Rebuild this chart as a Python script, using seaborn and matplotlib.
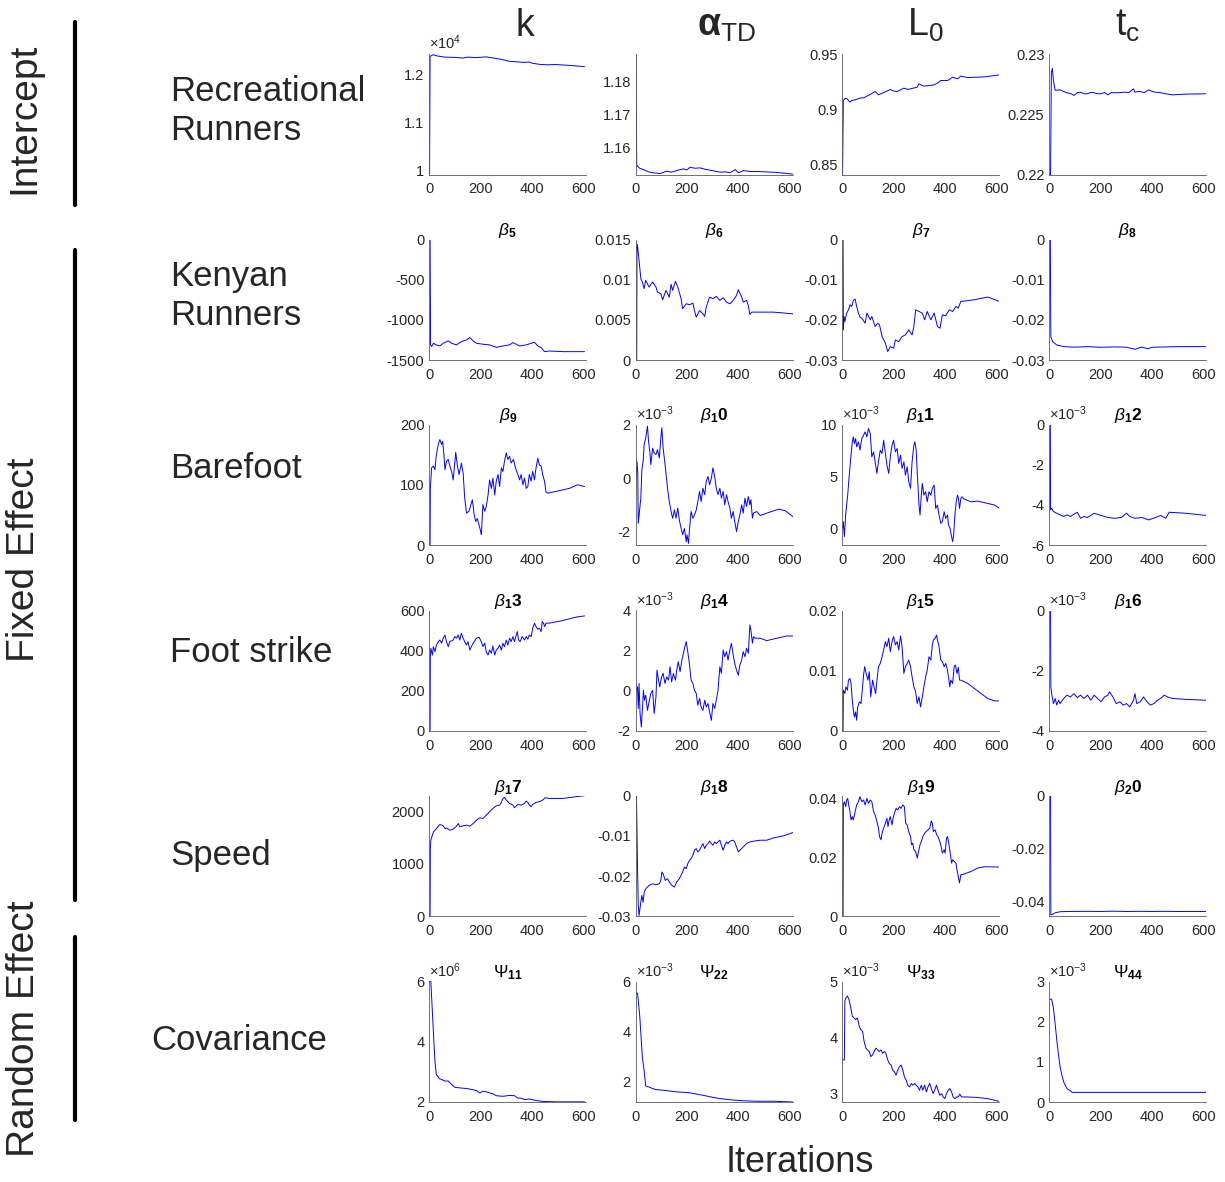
import matplotlib
matplotlib.use("Agg")
import matplotlib.pyplot as plt
import seaborn as sns
from matplotlib.lines import Line2D

# ---------------- data (iteration, value) ----------------
# Row 1: intercepts
it_k = [1, 3, 15, 30, 60, 100, 130, 150, 180, 200, 222, 250, 280, 313, 340, 365, 390, 400, 430, 460, 494, 540, 580, 605]
v_k = [0.993, 1.238, 1.2414, 1.239, 1.2365, 1.236, 1.2345, 1.2365, 1.2355, 1.2362, 1.2370, 1.2345, 1.232, 1.2276,
       1.2268, 1.2255, 1.2262, 1.224, 1.2214, 1.2205, 1.221, 1.2195, 1.2178, 1.2165]

it_atd = [1, 4, 7, 15, 30, 50, 69, 95, 121, 140, 160, 186, 200, 212, 230, 251, 270, 290, 310, 329, 350, 368, 388,
          401, 420, 446, 472, 537, 580, 612]
v_atd = [1.1884, 1.1544, 1.1545, 1.1538, 1.1534, 1.1527, 1.1524, 1.1522, 1.1529, 1.1526, 1.1531, 1.1536, 1.1533,
         1.1541, 1.1538, 1.1539, 1.1535, 1.1532, 1.1529, 1.1526, 1.1527, 1.1524, 1.1534, 1.1524, 1.1531, 1.1528,
         1.1528, 1.1526, 1.1523, 1.1520]

it_l0 = [1, 4, 10, 17, 30, 37, 50, 69, 85, 96, 110, 128, 141, 160, 187, 200, 214, 240, 255, 266, 292, 299, 318,
         340, 358, 370, 384, 410, 430, 449, 462, 489, 554, 612]
v_l0 = [0.842, 0.9080, 0.9095, 0.9098, 0.9065, 0.9080, 0.9085, 0.9101, 0.9105, 0.9119, 0.9135, 0.9161, 0.9131,
        0.915, 0.9179, 0.9165, 0.9161, 0.9191, 0.9180, 0.9185, 0.9200, 0.9230, 0.9209, 0.9215, 0.9221, 0.9235,
        0.9260, 0.9260, 0.9290, 0.9275, 0.9299, 0.9287, 0.9293, 0.9311]

it_tc = [1, 5, 8, 12, 16, 23, 42, 55, 69, 85, 96, 110, 122, 135, 149, 160, 175, 190, 202, 215, 228, 242, 255, 275,
         295, 310, 328, 334, 350, 370, 387, 400, 414, 430, 454, 480, 533, 612]
v_tc = [0.2200, 0.2200, 0.2285, 0.2288, 0.2278, 0.2270, 0.22702, 0.2269, 0.22678, 0.2267, 0.22656, 0.2268,
        0.22683, 0.2267, 0.2267, 0.2268, 0.22678, 0.2267, 0.2267, 0.2268, 0.22661, 0.2268, 0.22678, 0.2268,
        0.22683, 0.2268, 0.22711, 0.22683, 0.2269, 0.2268, 0.22702, 0.2269, 0.22683, 0.2268, 0.2267, 0.22661,
        0.22667, 0.2267]

# Row 2: Kenyan runners
it_b5 = [1, 3, 5, 9, 16, 28, 41, 54, 74, 87, 106, 125, 145, 158, 171, 184, 210, 235, 261, 287, 313, 326, 352, 378,
         397, 410, 423, 436, 449, 468, 520, 605]
v_b5 = [0, 0, -1312, -1333, -1292, -1312, -1325, -1292, -1262, -1292, -1312, -1271, -1250, -1221, -1262, -1292,
        -1304, -1312, -1342, -1325, -1312, -1283, -1325, -1312, -1292, -1279, -1325, -1346, -1396, -1388, -1396, -1396]

it_b6 = [1, 4, 5, 7, 13, 20, 26, 33, 39, 52, 66, 79, 85, 98, 105, 118, 131, 138, 144, 155, 164, 177, 183, 197, 210,
         223, 229, 236, 249, 262, 269, 275, 288, 301, 314, 328, 341, 354, 367, 380, 393, 400, 413, 419, 432, 439,
         445, 452, 472, 537, 613]
v_b6 = [0.0, 0.0, 0.01438, 0.01429, 0.01242, 0.01013, 0.00971, 0.00888, 0.00992, 0.00908, 0.00971, 0.00908,
        0.00846, 0.00825, 0.0075, 0.00867, 0.00783, 0.00942, 0.00867, 0.00979, 0.00908, 0.00763, 0.00638, 0.007,
        0.00688, 0.00708, 0.00617, 0.00533, 0.00617, 0.00575, 0.00542, 0.00658, 0.00783, 0.00763, 0.00792,
        0.00742, 0.00775, 0.00721, 0.007, 0.00742, 0.00804, 0.00875, 0.00783, 0.00721, 0.00742, 0.00679,
        0.00567, 0.00596, 0.00596, 0.00596, 0.00575]

it_b7 = [1, 3, 4, 7, 10, 17, 24, 30, 37, 43, 50, 56, 63, 69, 76, 89, 96, 109, 115, 128, 138, 145, 155, 168, 177,
         187, 200, 207, 220, 233, 246, 259, 272, 279, 286, 299, 312, 321, 331, 345, 358, 371, 381, 390, 403, 417,
         430, 443, 452, 462, 515, 567, 613]
v_b7 = [0, 0, -0.0225, -0.01917, -0.02042, -0.01833, -0.0175, -0.01625, -0.01667, -0.01517, -0.01483, -0.01667,
        -0.01833, -0.01933, -0.01958, -0.02083, -0.01833, -0.02, -0.01917, -0.02167, -0.02083, -0.02125, -0.02417,
        -0.02583, -0.02792, -0.02667, -0.02708, -0.025, -0.02542, -0.02417, -0.02375, -0.0225, -0.02375, -0.02167,
        -0.0175, -0.01792, -0.01833, -0.02, -0.01792, -0.02, -0.01833, -0.02167, -0.02208, -0.01875, -0.019,
        -0.0175, -0.01792, -0.01667, -0.01708, -0.01542, -0.015, -0.01433, -0.01542]

it_b8 = [1, 4, 6, 13, 29, 56, 100, 150, 200, 250, 300, 334, 360, 385, 401, 450, 500, 612]
v_b8 = [0, 0, -0.02417, -0.02542, -0.02625, -0.02667, -0.0268, -0.02667, -0.02683, -0.02675, -0.0268, -0.02733,
        -0.0268, -0.0272, -0.02683, -0.02675, -0.02667, -0.02667]

# Row 3: barefoot
it_b9 = [1, 3, 4, 9, 16, 22, 26, 31, 35, 41, 48, 52, 57, 61, 67, 74, 80, 87, 93, 100, 103, 109, 116, 122, 125, 132,
         138, 145, 155, 162, 168, 175, 181, 187, 197, 203, 209, 216, 222, 229, 235, 242, 248, 255, 261, 268, 274,
         281, 287, 293, 300, 306, 313, 319, 328, 336, 345, 352, 358, 365, 371, 378, 384, 390, 397, 403, 410, 416,
         423, 429, 436, 442, 449, 455, 462, 494, 546, 578, 605]
v_b9 = [0, 0, 94, 128, 131, 125, 144, 158, 167, 175, 167, 172, 150, 125, 139, 142, 131, 122, 108, 139, 154, 133,
        117, 129, 136, 119, 78, 53, 56, 67, 75, 50, 39, 44, 28, 17, 67, 56, 64, 83, 108, 94, 111, 83, 106, 117, 97,
        128, 122, 139, 153, 142, 147, 136, 142, 128, 117, 108, 117, 100, 111, 94, 97, 117, 106, 122, 108, 128, 144,
        133, 131, 117, 106, 88, 86, 89, 94, 100, 97]

it_b10 = [1, 5, 8, 10, 16, 20, 24, 29, 33, 39, 46, 50, 55, 59, 66, 72, 79, 85, 92, 98, 102, 107, 113, 118, 124, 131,
          138, 144, 151, 157, 164, 170, 177, 183, 190, 197, 200, 206, 210, 216, 223, 229, 236, 242, 249, 255, 262,
          269, 275, 282, 288, 295, 301, 308, 314, 321, 328, 334, 341, 347, 354, 360, 367, 373, 380, 386, 393, 400,
          406, 413, 419, 426, 432, 439, 445, 449, 455, 459, 472, 485, 511, 557, 583, 613]
v_b10 = [0.0, 0.62, 0.2, -1.69, -1.12, -0.75, 0.31, 0.62, 1.25, 1.5, 1.94, 1.38, 1.0, 0.5, 1.12, 0.94, 0.88, 1.06,
         0.75, 1.5, 1.88, 1.12, 0.62, 0.19, -0.38, -0.88, -1.25, -1.5, -1.19, -1.5, -1.12, -1.56, -1.88, -2.12,
         -1.88, -2.38, -2.12, -2.44, -1.88, -1.25, -1.5, -1.38, -1.19, -0.88, -0.5, -0.88, -0.38, -0.62, -0.12,
         0.06, -0.25, 0.0, 0.38, 0.06, -0.38, -0.62, -0.38, -0.75, -0.5, -1.0, -0.62, -0.88, -1.12, -1.5, -1.25,
         -1.62, -2.0, -1.62, -1.38, -1.0, -1.31, -0.75, -1.06, -0.69, -1.0, -0.81, -1.5, -1.31, -1.25, -1.4, -1.31,
         -1.16, -1.22, -1.44]

it_b11 = [1, 4, 8, 13, 17, 21, 25, 30, 34, 39, 43, 47, 52, 56, 63, 69, 76, 83, 89, 96, 102, 109, 115, 122, 128, 135,
          141, 148, 155, 161, 168, 174, 181, 187, 194, 200, 207, 214, 220, 227, 233, 240, 246, 253, 259, 266, 272,
          279, 283, 288, 292, 299, 303, 308, 312, 318, 325, 331, 338, 345, 351, 358, 364, 371, 377, 384, 390, 397,
          403, 410, 414, 420, 426, 430, 434, 439, 444, 449, 453, 457, 462, 466, 475, 502, 528, 567, 594, 613]
v_b11 = [0.0, 0.64, -0.8, 1.28, 2.24, 3.2, 4.49, 5.93, 7.05, 8.33, 8.81, 8.17, 8.65, 7.85, 8.33, 7.53, 8.65, 8.97,
         9.29, 8.81, 9.62, 9.13, 6.89, 7.37, 6.41, 5.29, 6.41, 7.53, 7.21, 8.49, 7.21, 6.09, 5.29, 6.89, 8.01, 8.49,
         7.37, 7.69, 6.25, 7.05, 5.77, 6.41, 5.13, 5.93, 4.49, 3.85, 6.41, 8.01, 8.33, 7.53, 5.45, 2.24, 1.28, 3.2,
         4.33, 3.2, 3.53, 2.56, 3.53, 3.2, 3.85, 4.17, 1.92, 2.24, 1.28, 0.48, 0.64, 1.6, 0.96, 1.28, 0.32, 0.0,
         -0.8, -1.28, -0.64, 1.28, 2.56, 3.2, 2.88, 1.92, 2.88, 3.04, 2.82, 2.56, 2.62, 2.4, 2.24, 1.92]

it_b12 = [1, 4, 5, 9, 16, 29, 42, 56, 69, 82, 96, 109, 122, 135, 149, 175, 202, 228, 255, 281, 301, 314, 334, 361,
          387, 414, 434, 454, 467, 533, 612]
v_b12 = [0, 0, -4.25, -4.17, -4.33, -4.42, -4.5, -4.58, -4.5, -4.58, -4.47, -4.37, -4.67, -4.58, -4.63, -4.42,
         -4.53, -4.63, -4.67, -4.63, -4.42, -4.58, -4.67, -4.63, -4.75, -4.63, -4.53, -4.67, -4.37, -4.42, -4.53]

# Row 4: foot strike
it_b13 = [1, 3, 4, 6, 12, 16, 22, 28, 35, 41, 48, 54, 61, 67, 74, 80, 93, 100, 106, 113, 119, 125, 132, 138, 145,
          151, 158, 164, 171, 184, 194, 203, 209, 216, 222, 229, 235, 242, 248, 255, 261, 268, 274, 281, 287, 293,
          300, 306, 313, 319, 326, 332, 339, 343, 348, 354, 362, 371, 378, 384, 390, 397, 403, 410, 416, 423, 429,
          436, 440, 445, 450, 455, 468, 520, 572, 605]
v_b13 = [0, 0, 370, 412, 378, 420, 395, 428, 445, 453, 437, 462, 478, 445, 420, 445, 453, 470, 462, 478, 453, 487,
         462, 445, 428, 445, 403, 420, 437, 462, 467, 445, 420, 437, 395, 378, 403, 387, 423, 378, 403, 412, 428,
         403, 437, 420, 453, 428, 462, 445, 470, 445, 478, 495, 453, 445, 470, 453, 470, 457, 478, 470, 512, 537,
         520, 507, 512, 495, 545, 537, 520, 537, 537, 550, 567, 573]

it_b14 = [1, 7, 10, 13, 17, 22, 26, 30, 34, 39, 46, 52, 59, 66, 72, 79, 83, 89, 94, 101, 107, 114, 121, 128, 134,
          140, 147, 155, 160, 166, 173, 180, 186, 193, 197, 203, 210, 216, 223, 229, 236, 242, 249, 255, 262, 269,
          275, 282, 288, 295, 301, 308, 314, 321, 328, 334, 341, 347, 354, 360, 367, 373, 380, 386, 393, 400, 406,
          413, 419, 426, 432, 439, 445, 449, 455, 459, 465, 485, 511, 550, 589, 613]
v_b14 = [0.03, 0.2, -0.88, 0.37, -1.13, -1.8, -0.97, 0.03, -0.47, -0.22, -0.97, -0.55, -0.13, 0.03, -1.13, -0.3,
         1.03, 0.53, 0.2, 0.7, 0.87, 0.37, 0.7, 0.53, 1.2, 0.45, 0.87, 0.53, 1.03, 1.45, 0.95, 1.53, 1.87, 2.28,
         2.45, 1.95, 1.28, 0.53, 0.37, 0.03, -0.13, -0.72, -0.38, -0.8, -0.97, -0.47, -0.8, -0.63, -1.05, -1.47,
         -0.63, -0.88, -0.47, 0.03, 1.2, 0.87, 2.03, 1.7, 1.95, 1.53, 2.03, 2.37, 1.78, 1.37, 1.03, 0.78, 1.28,
         1.53, 1.95, 1.7, 2.12, 1.87, 3.28, 3.03, 2.37, 2.7, 2.62, 2.62, 2.5, 2.62, 2.73, 2.73]

it_b15 = [1, 3, 4, 10, 14, 20, 24, 30, 34, 39, 43, 47, 52, 56, 60, 67, 73, 79, 83, 87, 93, 100, 105, 111, 118, 124,
          130, 135, 141, 148, 155, 161, 168, 174, 181, 187, 194, 200, 207, 214, 220, 227, 233, 240, 246, 253, 259,
          266, 272, 279, 286, 292, 299, 305, 312, 318, 325, 331, 338, 345, 351, 355, 362, 367, 371, 377, 384, 390,
          397, 403, 410, 414, 419, 423, 430, 436, 441, 447, 452, 457, 462, 489, 515, 541, 567, 594, 613]
v_b15 = [0.0, 0.0, 0.00678, 0.00622, 0.00733, 0.00678, 0.00844, 0.00872, 0.00789, 0.00511, 0.00344, 0.00233,
         0.00317, 0.00178, 0.004, 0.00483, 0.00456, 0.00733, 0.00928, 0.01067, 0.00956, 0.00844, 0.00983, 0.00567,
         0.00844, 0.00733, 0.00622, 0.00844, 0.01067, 0.01122, 0.01233, 0.01344, 0.01483, 0.014, 0.01539, 0.01317,
         0.01483, 0.01567, 0.01428, 0.01483, 0.01344, 0.01578, 0.014, 0.00956, 0.01067, 0.01122, 0.01178, 0.01067,
         0.009, 0.00733, 0.0065, 0.00456, 0.00567, 0.004, 0.00567, 0.00733, 0.009, 0.01011, 0.01233, 0.01178,
         0.01428, 0.01511, 0.01539, 0.01594, 0.01511, 0.014, 0.01178, 0.0115, 0.01067, 0.01122, 0.01011, 0.009,
         0.00733, 0.00844, 0.00789, 0.01067, 0.01094, 0.00956, 0.01056, 0.00844, 0.00844, 0.00789, 0.00706,
         0.00622, 0.00539, 0.005, 0.005]

it_b16 = [1, 5, 6, 9, 16, 23, 29, 36, 42, 56, 69, 82, 96, 109, 122, 135, 149, 162, 175, 188, 202, 215, 228, 235,
          248, 261, 275, 288, 301, 314, 328, 334, 341, 354, 367, 381, 394, 408, 421, 434, 448, 461, 480, 533, 612]
v_b16 = [0, 0, -2.53, -2.76, -3.09, -2.92, -3.14, -2.98, -3.09, -2.92, -2.81, -2.87, -2.76, -2.89, -2.81, -2.92,
         -2.81, -2.98, -2.81, -2.92, -3.03, -2.87, -2.81, -2.7, -2.87, -3.09, -3.03, -3.14, -3.09, -3.2, -2.98,
         -2.76, -3.09, -3.03, -2.87, -3.03, -3.14, -3.09, -2.98, -2.92, -2.81, -2.87, -2.92, -2.95, -2.98]

# Row 5: speed
it_b17 = [1, 3, 4, 6, 12, 16, 22, 28, 35, 41, 48, 54, 61, 67, 80, 93, 106, 113, 119, 132, 145, 158, 171, 184, 197,
          209, 222, 235, 248, 261, 274, 281, 287, 293, 300, 313, 326, 332, 345, 358, 371, 378, 384, 390, 397, 403,
          416, 429, 442, 451, 468, 520, 572, 605]
v_b17 = [0, 0, 1295, 1455, 1551, 1615, 1647, 1679, 1724, 1756, 1744, 1731, 1679, 1692, 1647, 1667, 1724, 1776, 1712,
         1731, 1744, 1724, 1776, 1840, 1885, 1872, 1936, 2000, 2064, 2115, 2128, 2179, 2256, 2276, 2224, 2160, 2128,
         2077, 2141, 2128, 2160, 2205, 2179, 2128, 2096, 2141, 2179, 2192, 2224, 2269, 2256, 2256, 2288, 2308]

it_b18 = [1, 3, 7, 10, 13, 20, 24, 29, 33, 39, 46, 52, 66, 79, 92, 98, 102, 107, 115, 124, 131, 141, 151, 160, 170,
          177, 183, 190, 197, 203, 210, 216, 223, 229, 236, 242, 249, 255, 262, 269, 275, 282, 288, 295, 301, 308,
          314, 321, 328, 334, 341, 347, 354, 360, 367, 380, 386, 393, 400, 406, 413, 419, 426, 432, 445, 459, 485,
          511, 537, 576, 613]
v_b18 = [0, 0, -0.01733, -0.02733, -0.02983, -0.0265, -0.02483, -0.0265, -0.024, -0.02317, -0.02275, -0.02233,
         -0.02192, -0.02217, -0.02192, -0.02108, -0.019, -0.01942, -0.02108, -0.02067, -0.0215, -0.02233, -0.02275,
         -0.0215, -0.02067, -0.01983, -0.019, -0.01775, -0.01817, -0.01692, -0.01608, -0.01567, -0.01483, -0.01358,
         -0.01317, -0.014, -0.01358, -0.01275, -0.01192, -0.01317, -0.01233, -0.01192, -0.01133, -0.01192,
         -0.01233, -0.0115, -0.01192, -0.0115, -0.01108, -0.01233, -0.01358, -0.01233, -0.0115, -0.01192,
         -0.01133, -0.01108, -0.0115, -0.01275, -0.014, -0.01358, -0.01317, -0.01275, -0.01233, -0.01192, -0.0115,
         -0.01133, -0.01108, -0.01108, -0.0105, -0.01, -0.00917]

it_b19 = [1, 3, 4, 8, 13, 17, 21, 25, 30, 34, 39, 43, 50, 56, 63, 69, 76, 83, 89, 96, 102, 109, 115, 122, 128, 135,
          141, 145, 151, 155, 161, 168, 174, 178, 183, 187, 194, 198, 203, 210, 216, 223, 229, 236, 242, 247, 253,
          259, 266, 270, 275, 279, 286, 292, 296, 303, 308, 314, 321, 327, 334, 341, 347, 351, 355, 362, 368, 373,
          380, 384, 390, 397, 401, 406, 410, 415, 420, 426, 430, 436, 443, 447, 452, 457, 462, 475, 502, 528, 554,
          613]
v_b19 = [0, 0, 0.03775, 0.03887, 0.03718, 0.03944, 0.04, 0.03775, 0.03549, 0.03268, 0.0338, 0.03268, 0.03549,
         0.03775, 0.03887, 0.04056, 0.03887, 0.03944, 0.03775, 0.04, 0.03831, 0.03944, 0.03887, 0.03549, 0.03437,
         0.03211, 0.02986, 0.02704, 0.02592, 0.02817, 0.02986, 0.03155, 0.03324, 0.03042, 0.03268, 0.0338,
         0.03099, 0.03324, 0.03493, 0.03662, 0.03606, 0.03718, 0.03662, 0.03775, 0.03718, 0.03155, 0.03099,
         0.02873, 0.02704, 0.02423, 0.02479, 0.02254, 0.02197, 0.01972, 0.02141, 0.02423, 0.02535, 0.02704,
         0.02817, 0.02873, 0.0293, 0.02986, 0.03234, 0.03155, 0.02873, 0.0293, 0.02761, 0.02704, 0.02535, 0.02423,
         0.02141, 0.02254, 0.02141, 0.02648, 0.02704, 0.02479, 0.02197, 0.01803, 0.01915, 0.01859, 0.01803,
         0.01577, 0.01352, 0.01127, 0.01408, 0.01431, 0.01521, 0.01634, 0.01679, 0.01668]

it_b20 = [1, 5, 6, 13, 23, 42, 80, 150, 200, 250, 300, 350, 400, 450, 500, 612]
v_b20 = [0, 0, -0.0452, -0.045, -0.0444, -0.0440, -0.0439, -0.04385, -0.0439, -0.0438, -0.0439, -0.04385, -0.0439,
         -0.04385, -0.0439, -0.0439]

# Row 6: covariance
it_p11 = [1, 6, 9, 13, 17, 22, 27, 32, 39, 48, 61, 74, 87, 100, 119, 145, 171, 184, 197, 209, 222, 248, 261, 287,
          313, 332, 345, 358, 371, 390, 416, 442, 494, 605]
v_p11 = [6.0, 6.0, 5.49, 4.82, 4.14, 3.35, 2.9, 2.85, 2.76, 2.73, 2.68, 2.68, 2.56, 2.47, 2.45, 2.43, 2.39, 2.36,
         2.28, 2.34, 2.32, 2.25, 2.19, 2.17, 2.2, 2.19, 2.11, 2.11, 2.06, 2.08, 2.03, 2.0, 1.985, 1.985]

it_p22 = [1, 7, 10, 16, 21, 26, 33, 39, 52, 66, 79, 118, 157, 210, 262, 314, 367, 419, 472, 537, 613]
v_p22 = [5.53, 5.53, 5.25, 4.58, 3.76, 2.95, 2.41, 1.8, 1.76, 1.7, 1.66, 1.62, 1.57, 1.53, 1.43, 1.32, 1.25, 1.21,
         1.19, 1.19, 1.16]

it_p33 = [1, 8, 10, 14, 20, 26, 33, 39, 46, 52, 59, 66, 72, 79, 85, 92, 98, 105, 111, 118, 124, 131, 138, 144, 151,
          157, 164, 170, 177, 183, 190, 196, 203, 210, 216, 223, 229, 236, 242, 249, 255, 262, 269, 275, 282, 288,
          295, 301, 308, 314, 321, 328, 334, 341, 347, 354, 360, 367, 373, 380, 387, 393, 400, 406, 413, 419, 426,
          432, 439, 445, 452, 458, 465, 489, 528, 567, 613]
v_p33 = [3.6, 3.6, 4.65, 4.71, 4.74, 4.68, 4.53, 4.38, 4.35, 4.32, 4.35, 4.2, 4.14, 4.11, 3.93, 3.81, 3.78, 3.75,
         3.66, 3.69, 3.75, 3.81, 3.78, 3.75, 3.78, 3.72, 3.75, 3.72, 3.6, 3.54, 3.51, 3.42, 3.39, 3.33, 3.42, 3.48,
         3.51, 3.42, 3.3, 3.24, 3.15, 3.12, 3.18, 3.15, 3.18, 3.15, 3.12, 3.06, 3.15, 3.06, 3.15, 3.03, 3.12, 3.18,
         3.09, 3.0, 3.06, 3.15, 3.06, 2.97, 3.0, 2.94, 2.91, 3.0, 3.06, 3.09, 3.03, 2.94, 2.91, 2.94, 2.94, 2.99,
         2.94, 2.94, 2.93, 2.91, 2.86]

it_p44 = [1, 9, 16, 23, 29, 36, 42, 49, 56, 62, 69, 82, 89, 150, 300, 450, 612]
v_p44 = [2.56, 2.56, 2.35, 1.93, 1.55, 1.17, 0.88, 0.67, 0.5, 0.42, 0.33, 0.28, 0.24, 0.24, 0.24, 0.24, 0.24]

col_headers = ["k", r"$\mathbf{\alpha}_{\mathrm{TD}}$", r"L$_{0}$", r"t$_{\mathrm{c}}$"]
row_labels = ["Recreational\nRunners", "Kenyan\nRunners", "Barefoot", "Foot strike", "Speed", "Covariance"]
group_labels = ["Intercept", "Fixed Effect", "Random Effect"]
x_ticks = [0, 200, 400, 600]

# panel specs: (iterations, values, title, ylim, yticks, exponent label)
panels = [
    [(it_k, v_k, None, (0.992, 1.243), [1, 1.1, 1.2], "4"),
     (it_atd, v_atd, None, (1.1519, 1.1884), [1.16, 1.17, 1.18], None),
     (it_l0, v_l0, None, (0.841, 0.95), [0.85, 0.9, 0.95], None),
     (it_tc, v_tc, None, (0.22, 0.23), [0.22, 0.225, 0.23], None)],
    [(it_b5, v_b5, r"$\beta_{\mathbf{5}}$", (-1500, 0), [-1500, -1000, -500, 0], None),
     (it_b6, v_b6, r"$\beta_{\mathbf{6}}$", (0, 0.015), [0, 0.005, 0.01, 0.015], None),
     (it_b7, v_b7, r"$\beta_{\mathbf{7}}$", (-0.03, 0), [-0.03, -0.02, -0.01, 0], None),
     (it_b8, v_b8, r"$\beta_{\mathbf{8}}$", (-0.03, 0), [-0.03, -0.02, -0.01, 0], None)],
    [(it_b9, v_b9, r"$\beta_{\mathbf{9}}$", (0, 200), [0, 100, 200], None),
     (it_b10, v_b10, r"$\beta_{\mathbf{1}}\mathbf{0}$", (-2.5, 2.0), [-2, 0, 2], "-3"),
     (it_b11, v_b11, r"$\beta_{\mathbf{1}}\mathbf{1}$", (-1.6, 10), [0, 5, 10], "-3"),
     (it_b12, v_b12, r"$\beta_{\mathbf{1}}\mathbf{2}$", (-6, 0), [-6, -4, -2, 0], "-3")],
    [(it_b13, v_b13, r"$\beta_{\mathbf{1}}\mathbf{3}$", (0, 600), [0, 200, 400, 600], None),
     (it_b14, v_b14, r"$\beta_{\mathbf{1}}\mathbf{4}$", (-2, 4), [-2, 0, 2, 4], "-3"),
     (it_b15, v_b15, r"$\beta_{\mathbf{1}}\mathbf{5}$", (0, 0.02), [0, 0.01, 0.02], None),
     (it_b16, v_b16, r"$\beta_{\mathbf{1}}\mathbf{6}$", (-4, 0), [-4, -2, 0], "-3")],
    [(it_b17, v_b17, r"$\beta_{\mathbf{1}}\mathbf{7}$", (0, 2308), [0, 1000, 2000], None),
     (it_b18, v_b18, r"$\beta_{\mathbf{1}}\mathbf{8}$", (-0.03, 0), [-0.03, -0.02, -0.01, 0], None),
     (it_b19, v_b19, r"$\beta_{\mathbf{1}}\mathbf{9}$", (0, 0.0409), [0, 0.02, 0.04], None),
     (it_b20, v_b20, r"$\beta_{\mathbf{2}}\mathbf{0}$", (-0.0457, 0), [-0.04, -0.02, 0], None)],
    [(it_p11, v_p11, r"$\Psi_{\mathbf{11}}$", (1.98, 6.0), [2, 4, 6], "6"),
     (it_p22, v_p22, r"$\Psi_{\mathbf{22}}$", (1.16, 6.0), [2, 4, 6], "-3"),
     (it_p33, v_p33, r"$\Psi_{\mathbf{33}}$", (2.85, 5.0), [3, 4, 5], "-3"),
     (it_p44, v_p44, r"$\Psi_{\mathbf{44}}$", (0, 3), [0, 1, 2, 3], "-3")],
]

# ---------------- style ----------------
sns.set_style("white")
plt.rcParams["font.family"] = ["Liberation Sans", "DejaVu Sans"]
plt.rcParams["mathtext.fontset"] = "custom"
plt.rcParams["mathtext.rm"] = "Liberation Sans"
plt.rcParams["mathtext.it"] = "Liberation Sans:italic"
plt.rcParams["mathtext.bf"] = "Liberation Sans:bold"

W, H = 1225, 1182
fig = plt.figure(figsize=(W / 100, H / 100), dpi=100)
fig.patch.set_facecolor("white")

col_left = [429.3, 635.7, 842.3, 1049.3]
row_top = [54, 239.5, 424.5, 610.5, 795.7, 981.5]
ax_w, ax_h = 157, 120.5
TXT = "#262626"

for r, row in enumerate(panels):
    for c, (xs, ys, title, ylim, yticks, expo) in enumerate(row):
        ax = fig.add_axes([col_left[c] / W, 1 - (row_top[r] + ax_h) / H, ax_w / W, ax_h / H])
        sns.lineplot(x=xs, y=ys, ax=ax, color=(0, 0, 1), linewidth=0.7, estimator=None, sort=False)
        ax.set_xlim(0, 612)
        ax.set_ylim(*ylim)
        ax.set_xticks(x_ticks, labels=[str(t) for t in x_ticks])
        ax.set_yticks(yticks, labels=[f"{t:g}" for t in yticks])
        ax.set_xlabel("")
        ax.set_ylabel("")
        for s in ["top", "right"]:
            ax.spines[s].set_visible(False)
        for s in ["left", "bottom"]:
            ax.spines[s].set_color("#5a5a5a")
            ax.spines[s].set_linewidth(0.6)
        ax.tick_params(direction="in", length=2.5, width=0.5, colors="#5a5a5a",
                       labelsize=10.5, labelcolor=TXT, pad=3.5)
        ax.tick_params(axis="x", pad=5.5)
        if title:
            ax.set_title(title, fontsize=12.5, pad=3, color="black")
        if expo:
            ax.text(0.0, 1.015, r"$\times10^{%s}$" % expo, transform=ax.transAxes,
                    ha="left", va="bottom", fontsize=10.5, color=TXT)

# column headers
for x, s in zip([525, 727, 925, 1128], col_headers):
    fig.text(x / W, 1 - 36 / H, s, ha="center", va="baseline", fontsize=27)

# row labels
for (x, y), s in zip([(170, 111), (170, 296), (170, 469), (170, 653), (170, 855), (151, 1040)], row_labels):
    fig.text(x / W, 1 - y / H, s, ha="left", va="center", fontsize=25, linespacing=1.2)

# group labels and bars
for (y, (y0, y1)), s in zip([(118, (22, 205)), (560, (250, 900)), (1029, (937, 1120))], group_labels):
    fig.text(24 / W, 1 - y / H, s, ha="center", va="center", rotation=90, fontsize=28)
    fig.add_artist(Line2D([75 / W, 75 / W], [1 - y0 / H, 1 - y1 / H], transform=fig.transFigure,
                          color="black", linewidth=3))

fig.text(800 / W, 1 - 1163 / H, "Iterations", ha="center", va="center", fontsize=26)

fig.savefig("out.png", dpi=100, facecolor="white")
